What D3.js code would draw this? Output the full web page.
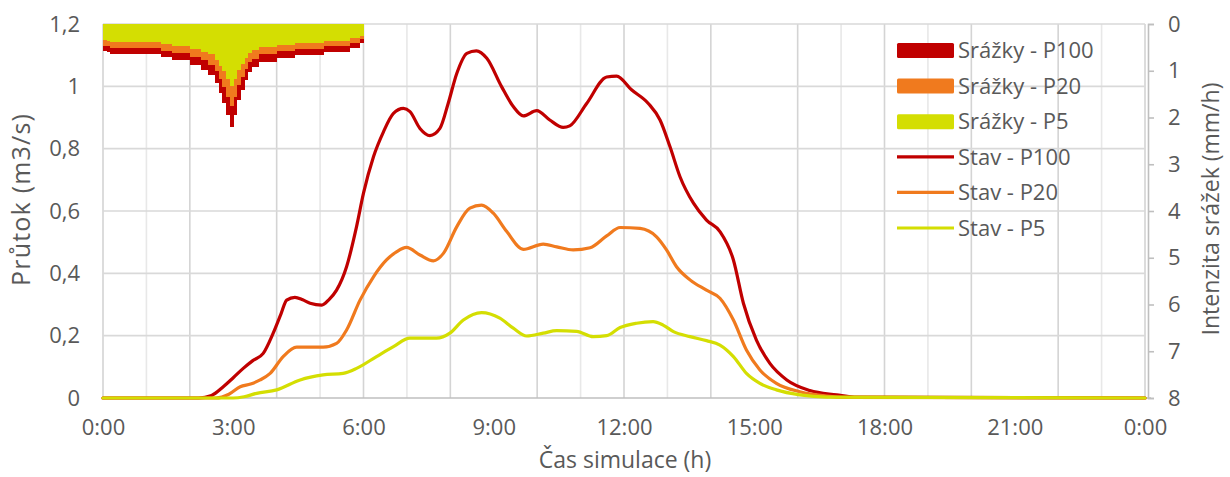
<!DOCTYPE html>
<html><head><meta charset="utf-8">
<script src="https://cdn.jsdelivr.net/npm/d3@7"></script>
<style>
html,body{margin:0;padding:0;background:#fff;}
svg{display:block;font-family:"Open Sans",sans-serif;}
</style></head>
<body><svg id="c" width="1230" height="477"></svg>
<script>
// ---- data ----
const xTickHours = [0,3,6,9,12,15,18,21,24];
const xTickLabels = ["0:00","3:00","6:00","9:00","12:00","15:00","18:00","21:00","0:00"];
const yLeftTicks = [0,0.2,0.4,0.6,0.8,1,1.2];
const yRightTicks = [0,1,2,3,4,5,6,7,8];

// rainfall intensity (mm/h), 5-minute blocks from 0:00 to 6:00
const rainP100 = [0.58,0.6,0.64,0.64,0.64,0.64,0.64,0.64,0.64,0.64,0.64,0.64,0.64,0.64,0.64,0.64,
  0.71,0.71,0.71,0.77,0.77,0.77,0.77,0.77,0.88,0.88,0.88,0.98,0.98,1.09,1.09,
  1.26,1.48,1.69,1.95,2.2,1.95,1.63,1.41,1.2,1.03,0.92,0.92,
  0.81,0.81,0.81,0.81,0.81,0.73,0.73,0.73,0.73,0.73,
  0.66,0.66,0.66,0.66,0.66,0.66,0.66,0.66,0.6,0.6,0.6,0.6,0.6,0.6,0.6,0.51,0.51,0.51,0.41];
const rainP20 = [0.46,0.48,0.51,0.51,0.51,0.51,0.51,0.51,0.51,0.51,0.51,0.51,0.51,0.51,0.51,0.51,
  0.57,0.57,0.57,0.62,0.62,0.62,0.62,0.62,0.7,0.7,0.7,0.78,0.78,0.87,0.87,
  1.01,1.18,1.35,1.56,1.76,1.56,1.3,1.13,0.96,0.82,0.74,0.74,
  0.65,0.65,0.65,0.65,0.65,0.58,0.58,0.58,0.58,0.58,
  0.53,0.53,0.53,0.53,0.53,0.53,0.53,0.53,0.48,0.48,0.48,0.48,0.48,0.48,0.48,0.41,0.41,0.41,0.33];
const rainP5 = [0.35,0.36,0.38,0.38,0.38,0.38,0.38,0.38,0.38,0.38,0.38,0.38,0.38,0.38,0.38,0.38,
  0.43,0.43,0.43,0.46,0.46,0.46,0.46,0.46,0.53,0.53,0.53,0.59,0.59,0.65,0.65,
  0.76,0.89,1.01,1.17,1.32,1.17,0.98,0.85,0.72,0.62,0.55,0.55,
  0.49,0.49,0.49,0.49,0.49,0.44,0.44,0.44,0.44,0.44,
  0.4,0.4,0.4,0.4,0.4,0.4,0.4,0.4,0.36,0.36,0.36,0.36,0.36,0.36,0.36,0.31,0.31,0.31,0.25];

// discharge (m3/s) vs simulation time (h)
const stavP100T = [0,2.2,2.5,2.77,3.0,3.23,3.45,3.69,3.92,4.1,4.23,4.42,4.6,4.77,5.04,5.2,5.38,5.61,5.84,6.0,6.23,6.46,6.69,6.92,7.07,7.3,7.53,7.76,7.95,8.15,8.38,8.6,8.84,9.18,9.45,9.68,9.99,10.29,10.6,10.75,11.14,11.6,11.83,12.18,12.56,12.83,13.06,13.29,13.6,13.9,14.21,14.52,14.75,15.05,15.36,15.75,16.28,16.9,17.3,24];
const stavP100V = [0,0,0.008,0.036,0.065,0.095,0.12,0.143,0.208,0.27,0.314,0.323,0.315,0.304,0.298,0.315,0.346,0.421,0.55,0.657,0.774,0.854,0.913,0.929,0.919,0.865,0.842,0.865,0.945,1.042,1.106,1.114,1.09,0.999,0.935,0.905,0.922,0.892,0.868,0.873,0.945,1.03,1.033,0.988,0.945,0.892,0.806,0.71,0.625,0.571,0.534,0.443,0.304,0.186,0.111,0.058,0.024,0.01,0.003,0];
const stavP20T = [0,2.6,2.9,3.16,3.4,3.62,3.85,4.15,4.46,4.8,5.07,5.38,5.61,5.92,6.23,6.53,6.76,6.99,7.3,7.61,7.84,8.15,8.45,8.72,8.99,9.3,9.68,10.14,10.45,10.83,11.22,11.6,11.91,12.37,12.75,12.98,13.21,13.52,13.9,14.21,14.52,14.82,15.13,15.51,16.05,16.67,17.1,24];
const stavP20V = [0,0,0.012,0.036,0.045,0.058,0.079,0.133,0.163,0.163,0.163,0.175,0.218,0.314,0.389,0.443,0.469,0.483,0.459,0.44,0.464,0.55,0.609,0.619,0.593,0.534,0.477,0.494,0.485,0.475,0.482,0.52,0.547,0.544,0.517,0.475,0.421,0.379,0.346,0.32,0.25,0.154,0.09,0.047,0.02,0.006,0.002,0];
const stavP5T = [0,3.0,3.25,3.54,4.0,4.54,5.07,5.53,5.84,6.3,6.69,7.07,7.68,7.99,8.3,8.72,9.14,9.45,9.76,10.14,10.45,10.91,11.29,11.6,11.91,12.29,12.67,12.9,13.14,13.52,13.9,14.21,14.52,14.82,15.13,15.51,16.05,16.67,24];
const stavP5V = [0,0,0.004,0.015,0.026,0.058,0.074,0.079,0.095,0.133,0.165,0.192,0.192,0.208,0.25,0.274,0.256,0.224,0.199,0.208,0.216,0.214,0.197,0.2,0.226,0.24,0.245,0.234,0.213,0.197,0.184,0.17,0.133,0.079,0.047,0.026,0.01,0.003,0];

const colRed = "#C00000", colOrange = "#F07A1E", colYellow = "#D4DE02";
const legendItems = [
  {name:"Srážky - P100", type:"rect", color:colRed},
  {name:"Srážky - P20", type:"rect", color:colOrange},
  {name:"Srážky - P5", type:"rect", color:colYellow},
  {name:"Stav - P100", type:"line", color:colRed},
  {name:"Stav - P20", type:"line", color:colOrange},
  {name:"Stav - P5", type:"line", color:colYellow}
];

// ---- layout ----
const L = 103, R = 1145, T = 24, B = 398;
const svg = d3.select("#c");
const x = d3.scaleLinear().domain([0,24]).range([L,R]);
const y = d3.scaleLinear().domain([0,1.2]).range([B,T]);
const yR = d3.scaleLinear().domain([0,8]).range([T,B]);
const txt = "#595959";
const tickFont = "22px";

// gridlines
const hours = d3.range(0,25).filter(h => !(h % 2 === 1 && h % 3 === 0));
svg.append("g").selectAll("line").data(hours).join("line")
  .attr("x1", d=>x(d)).attr("x2", d=>x(d)).attr("y1", T).attr("y2", B)
  .attr("stroke", d => d%2===0 ? "#d4d4d4" : "#e8e8e8").attr("stroke-width", 1.6);
svg.append("g").selectAll("line").data(yLeftTicks.slice(1)).join("line")
  .attr("x1", L).attr("x2", R).attr("y1", d=>y(d)).attr("y2", d=>y(d))
  .attr("stroke", "#d9d9d9").attr("stroke-width", 1.6);

// bottom axis line
svg.append("line").attr("x1", L).attr("x2", R+6).attr("y1", B).attr("y2", B)
  .attr("stroke", "#bfbfbf").attr("stroke-width", 1.6);

// right axis
const rAxis = d3.axisRight(yR).tickValues(yRightTicks).tickSize(6).tickPadding(14).tickFormat(d3.format("d"));
const gR = svg.append("g").attr("transform", `translate(${R+3},0)`).call(rAxis);
gR.select(".domain").attr("stroke", "#bfbfbf").attr("stroke-width", 1.6);
gR.selectAll(".tick line").attr("stroke", "#bfbfbf").attr("stroke-width", 1.6);
gR.selectAll("text").attr("fill", txt).style("font-size", tickFont).style("font-family", "'Open Sans',sans-serif");

// left axis (labels only)
const lAxis = d3.axisLeft(y).tickValues(yLeftTicks).tickSize(0).tickPadding(23)
  .tickFormat(d => d3.format("~g")(d).replace(".", ","));
const gL = svg.append("g").attr("transform", `translate(${L},0)`).call(lAxis);
gL.select(".domain").remove();
gL.selectAll("text").attr("fill", txt).style("font-size", tickFont).style("font-family", "'Open Sans',sans-serif");

// bottom axis labels
const bAxis = d3.axisBottom(x).tickValues(xTickHours).tickSize(0).tickPadding(21)
  .tickFormat((d,i) => xTickLabels[i]);
const gB = svg.append("g").attr("transform", `translate(0,${B})`).call(bAxis);
gB.select(".domain").remove();
gB.selectAll("text").attr("fill", txt).style("font-size", tickFont).style("font-family", "'Open Sans',sans-serif");

// rain bars (hanging from the top, secondary axis)
const bandX = d3.scaleBand().domain(d3.range(rainP100.length)).range([x(0), x(6)]).padding(0);
const rainSeries = [[rainP100, colRed],[rainP20, colOrange],[rainP5, colYellow]];
rainSeries.forEach(([vals, col]) => {
  svg.append("g").selectAll("rect").data(vals).join("rect")
    .attr("x", (d,i)=>bandX(i)).attr("width", bandX.bandwidth()+0.6)
    .attr("y", yR(0)).attr("height", d => yR(d)-yR(0))
    .attr("fill", col).attr("shape-rendering","crispEdges");
});

// flow lines
const lineGen = d3.line().x(d=>x(d[0])).y(d=>y(d[1])).curve(d3.curveMonotoneX);
const lineSeries = [[stavP100T, stavP100V, colRed],[stavP20T, stavP20V, colOrange],[stavP5T, stavP5V, colYellow]];
lineSeries.forEach(([ts, vs, col]) => {
  svg.append("path").datum(ts.map((t,i)=>[t, vs[i]]))
    .attr("d", lineGen).attr("fill","none").attr("stroke", col)
    .attr("stroke-width", 3.2).attr("stroke-linejoin","round").attr("stroke-linecap","round");
});

// axis titles
svg.append("text").attr("transform", "translate(30,200) rotate(-90)")
  .attr("text-anchor","middle").attr("fill", txt).style("font-size","25px")
  .attr("textLength", 172).attr("lengthAdjust","spacing").text("Průtok (m3/s)");
svg.append("text").attr("transform", "translate(1219,209) rotate(-90)")
  .attr("text-anchor","middle").attr("fill", txt).style("font-size","23px").text("Intenzita srážek (mm/h)");
svg.append("text").attr("x", 625).attr("y", 468)
  .attr("text-anchor","middle").attr("fill", txt).style("font-size","23px").text("Čas simulace (h)");

// legend
const lg = svg.append("g");
const rowY = d3.scaleLinear().domain([0,5]).range([50,228]);
legendItems.forEach((it,i) => {
  const cy = rowY(i);
  if (it.type === "rect") {
    lg.append("rect").attr("x", 897).attr("y", cy-7).attr("width", 57).attr("height", 15).attr("rx",1.5).attr("fill", it.color);
  } else {
    lg.append("line").attr("x1", 897).attr("x2", 954).attr("y1", cy).attr("y2", cy)
      .attr("stroke", it.color).attr("stroke-width", 3.2);
  }
  lg.append("text").attr("x", 958).attr("y", cy).attr("dy","0.36em")
    .attr("fill", txt).style("font-size","22px").text(it.name);
});
</script></body></html>
